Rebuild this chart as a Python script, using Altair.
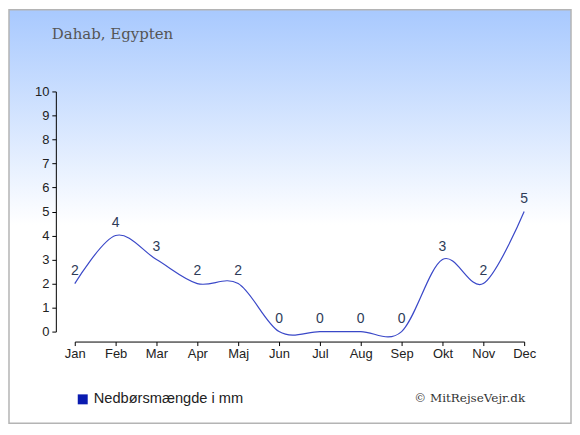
import altair as alt
import pandas as pd

months = ["Jan", "Feb", "Mar", "Apr", "Maj", "Jun", "Jul", "Aug", "Sep", "Okt", "Nov", "Dec"]
rain = [2, 4, 3, 2, 2, 0, 0, 0, 0, 3, 2, 5]
y_ticks = list(range(0, 11))
title_text = "Dahab, Egypten"
legend_text = "Nedbørsmængde i mm"
credit_text = "© MitRejseVejr.dk"

df = pd.DataFrame({"month": months, "rain": rain})
one = pd.DataFrame({"k": [0]})

W, H = 451, 241
SANS = "Liberation Sans"
SERIF = "DejaVu Serif"

x_enc = alt.X(
    "month:N", sort=months, title=None,
    scale=alt.Scale(type="point", padding=0),
    axis=alt.Axis(offset=10, labelAngle=0, domainColor="#000", tickColor="#000",
                  tickSize=4, labelFont=SANS, labelFontSize=13, labelColor="#222",
                  labelPadding=2, grid=False, zindex=1, labelOverlap=False),
)
y_enc = alt.Y(
    "rain:Q", title=None,
    scale=alt.Scale(domain=[0, 10], nice=False, zero=True),
    axis=alt.Axis(values=y_ticks, tickCount=11, offset=19, domainColor="#000", tickColor="#000",
                  tickSize=4, labelFont=SANS, labelFontSize=13, labelColor="#222",
                  labelPadding=3, grid=False, format="d", zindex=1, labelOverlap=False),
)

gradient = {
    "gradient": "linear", "x1": 0, "y1": 0, "x2": 0, "y2": 1,
    "stops": [
        {"offset": 0, "color": "#a8c9fe"},
        {"offset": 0.52, "color": "#ffffff"},
        {"offset": 1, "color": "#ffffff"},
    ],
}

bg = alt.Chart(one).mark_rect(fill=gradient, stroke="#b4b4b4", strokeWidth=1.5).encode(
    x=alt.value(-66), x2=alt.value(498), y=alt.value(-82), y2=alt.value(333)
)

line = alt.Chart(df).mark_line(interpolate="cardinal", color="#3a48c8", strokeWidth=1.2).encode(
    x=x_enc, y=y_enc
)

labels = alt.Chart(df).mark_text(font=SANS, fontSize=14, color="#2e3b58", dy=-13).encode(
    x=alt.X("month:N", sort=months), y="rain:Q", text="rain:Q"
)

title = alt.Chart(one).mark_text(
    text=title_text, font=SERIF, fontSize=15, color="#555555", align="left", baseline="middle"
).encode(x=alt.value(-23), y=alt.value(-58))

leg_sq = alt.Chart(one).mark_square(size=100, color="#0a1bb0", opacity=1, filled=True).encode(
    x=alt.value(8), y=alt.value(309)
)
leg_txt = alt.Chart(one).mark_text(
    text=legend_text, font=SANS, fontSize=14.7, color="#222222", align="left", baseline="middle"
).encode(x=alt.value(19), y=alt.value(309))

credit = alt.Chart(one).mark_text(
    text=credit_text, font=SERIF, fontSize=12, color="#333333", align="right", baseline="middle"
).encode(x=alt.value(452), y=alt.value(308))

chart = alt.layer(bg, line, labels, title, leg_sq, leg_txt, credit).properties(
    width=W, height=H, padding=0, background="white"
).configure_view(stroke=None)

chart.save("out.html", embed_options={"renderer": "svg", "actions": False})
